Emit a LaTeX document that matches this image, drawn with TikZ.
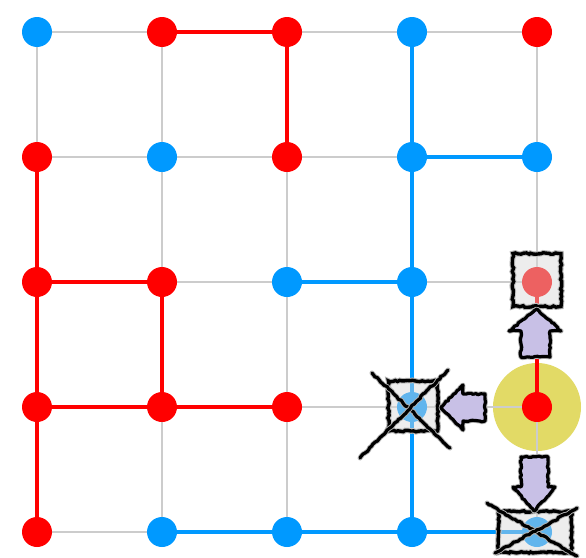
\documentclass[tikz,border=0pt]{standalone}
\usetikzlibrary{decorations.pathmorphing}
\definecolor{cblue}{HTML}{0099FF}
\definecolor{cred}{HTML}{FF0000}
\definecolor{cgrid}{HTML}{CCCCCC}
\definecolor{cyel}{HTML}{E2DA66}
\definecolor{clav}{HTML}{C8C0E6}
\begin{document}
\begin{tikzpicture}[x=1pt,y=-1pt,
  dotnode/.style={circle,inner sep=0pt,minimum size=30pt},
  bdot/.style={dotnode,fill=cblue},
  rdot/.style={dotnode,fill=cred},
  gridline/.style={draw=cgrid,line width=1.2pt},
  bedge/.style={draw=cblue,line width=4.5pt},
  redge/.style={draw=cred,line width=4.5pt},
  sketch/.style={draw=black,line width=3.2pt,line join=round,line cap=round,
     preaction={draw=black!30,line width=5pt,line join=round,line cap=round},
     decorate,decoration={random steps,segment length=2.5pt,amplitude=0.8pt}},
  markbox/.style={rectangle,inner sep=0pt,fill=gray!30,fill opacity=0.45,
     draw=black,draw opacity=1,line width=3.4pt,
     preaction={draw=black!30,line width=5.5pt,draw opacity=1},
     decorate,decoration={random steps,segment length=2.5pt,amplitude=0.8pt}},
  arrowfill/.style={fill=clav},
]
\useasboundingbox (0,0) rectangle (586,557);
\fill[white] (0,0) rectangle (586,557);
% grid coordinates
\foreach \i [evaluate=\i as \x using 37+125*\i] in {0,...,4}{
  \foreach \j [evaluate=\j as \y using 32+125*\j] in {0,...,4}{
    \coordinate (p\i\j) at (\x,\y);
  }
}
% highlight
\fill[cyel] (p43) circle (44);
% grid lines
\foreach \k in {0,...,4}{
  \draw[gridline] (p0\k) -- (p4\k);
  \draw[gridline] (p\k0) -- (p\k4);
}
% red edges
\draw[redge] (p10) -- (p20) -- (p21);
\draw[redge] (p01) -- (p02) -- (p03) -- (p04);
\draw[redge] (p02) -- (p12) -- (p13);
\draw[redge] (p03) -- (p13) -- (p23);
\draw[redge] (p43) -- (p42);
% blue edges
\draw[bedge] (p30) -- (p31) -- (p32) -- (p33) -- (p34);
\draw[bedge] (p31) -- (p41);
\draw[bedge] (p22) -- (p32);
\draw[bedge] (p14) -- (p24) -- (p34) -- (p44);
% dots
\node[bdot] (d00) at (p00) {};
\node[rdot] (d10) at (p10) {};
\node[rdot] (d20) at (p20) {};
\node[bdot] (d30) at (p30) {};
\node[rdot] (d40) at (p40) {};
\node[rdot] (d01) at (p01) {};
\node[bdot] (d11) at (p11) {};
\node[rdot] (d21) at (p21) {};
\node[bdot] (d31) at (p31) {};
\node[bdot] (d41) at (p41) {};
\node[rdot] (d02) at (p02) {};
\node[rdot] (d12) at (p12) {};
\node[bdot] (d22) at (p22) {};
\node[bdot] (d32) at (p32) {};
\node[rdot] (d42) at (p42) {};
\node[rdot] (d03) at (p03) {};
\node[rdot] (d13) at (p13) {};
\node[rdot] (d23) at (p23) {};
\node[bdot] (d33) at (p33) {};
\node[rdot] (d43) at (p43) {};
\node[rdot] (d04) at (p04) {};
\node[bdot] (d14) at (p14) {};
\node[bdot] (d24) at (p24) {};
\node[bdot] (d34) at (p34) {};
\node[bdot] (d44) at (p44) {};
% boxes
\node[markbox,minimum width=48pt,minimum height=53pt] (boxA) at (537,280) {};
\node[markbox,minimum width=49pt,minimum height=50pt] (boxB) at (413,406) {};
\node[markbox,minimum width=73pt,minimum height=41pt] (boxC) at (535,532) {};
% crosses
\draw[sketch] (372,373) -- (450,448);
\draw[sketch] (448,370) -- (360,458);
\draw[sketch] (487,503) -- (577,556);
\draw[sketch] (577,508) -- (495,553);
% arrows
\draw[arrowfill,sketch] (537,309) -- (561,331) -- (550,331) -- (550,357)
   -- (521,357) -- (521,331) -- (509,331) -- cycle;
\draw[arrowfill,sketch] (441,407) -- (463,385) -- (463,394) -- (485,394)
   -- (485,421) -- (463,421) -- (463,430) -- cycle;
\draw[arrowfill,sketch] (534,511) -- (513,487) -- (521,487) -- (521,457)
   -- (548,457) -- (548,487) -- (555,487) -- cycle;
\end{tikzpicture}
\end{document}
